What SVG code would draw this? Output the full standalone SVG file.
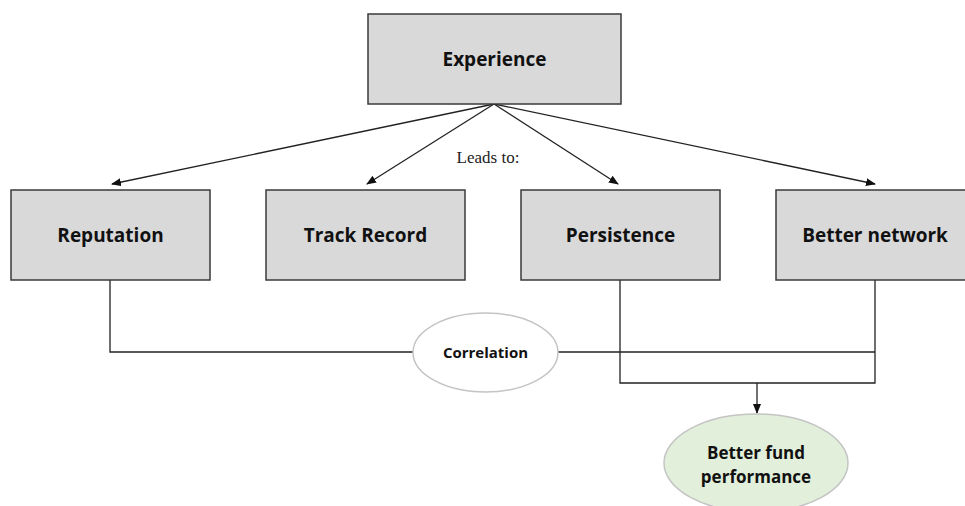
<svg xmlns="http://www.w3.org/2000/svg" width="965" height="506" viewBox="0 0 965 506">
<style>
.box{fill:#d9d9d9;stroke:#3a3a3a;stroke-width:1.5}
.lbl{font-family:"Open Sans","Liberation Sans",Arial,sans-serif;font-weight:bold;font-size:19px;fill:#111;text-anchor:middle}
.conn{fill:none;stroke:#222;stroke-width:1.3}
.ell{stroke:#c4c4c4;stroke-width:1.5}
</style>
<defs>
<marker id="ah" markerWidth="10" markerHeight="8" refX="9" refY="4" orient="auto" markerUnits="userSpaceOnUse">
<path d="M0,0 L10,4 L0,8 Z" fill="#111"/>
</marker>
</defs>
<rect width="965" height="506" fill="#fff"/>
<g id="connectors">
<line class="conn" x1="494" y1="104" x2="112" y2="184" marker-end="url(#ah)"/>
<line class="conn" x1="494" y1="104" x2="367" y2="184" marker-end="url(#ah)"/>
<line class="conn" x1="494" y1="104" x2="618" y2="184" marker-end="url(#ah)"/>
<line class="conn" x1="494" y1="104" x2="875" y2="184" marker-end="url(#ah)"/>
<polyline class="conn" points="110,280 110,352 413,352"/>
<polyline class="conn" points="558,352 875,352"/>
<polyline class="conn" points="620,280 620,383 875,383 875,280"/>
<line class="conn" x1="757" y1="383" x2="757" y2="413" marker-end="url(#ah)"/>
<text x="488" y="163" font-family="'Liberation Serif','Times New Roman',serif" font-size="17" fill="#222" text-anchor="middle">Leads to:</text>
</g>
<g id="experience">
<rect class="box" x="368" y="14" width="253" height="90"/>
<text class="lbl" x="494.5" y="66">Experience</text>
</g>
<g id="reputation">
<rect class="box" x="11" y="190" width="199" height="90"/>
<text class="lbl" x="110.5" y="242">Reputation</text>
</g>
<g id="track-record">
<rect class="box" x="266" y="190" width="199" height="90"/>
<text class="lbl" x="365.5" y="242">Track Record</text>
</g>
<g id="persistence">
<rect class="box" x="521" y="190" width="199" height="90"/>
<text class="lbl" x="620.5" y="242">Persistence</text>
</g>
<g id="better-network">
<rect class="box" x="776" y="190" width="199" height="90"/>
<text class="lbl" x="875" y="242">Better network</text>
</g>
<g id="correlation">
<ellipse class="ell" cx="485.5" cy="352.5" rx="72.5" ry="39.5" fill="#fff"/>
<text class="lbl" x="485.5" y="358" style="font-size:15px">Correlation</text>
</g>
<g id="better-fund-performance">
<ellipse class="ell" cx="756" cy="463" rx="92" ry="49" fill="#e2efda"/>
<text class="lbl" x="756" y="459" style="font-size:17px">Better fund</text>
<text class="lbl" x="756" y="483" style="font-size:17px">performance</text>
</g>
</svg>
